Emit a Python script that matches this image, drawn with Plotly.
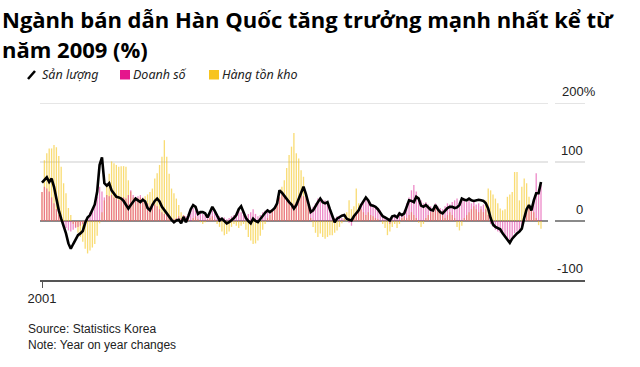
import plotly.graph_objects as go

# monthly index from Jan 2001
production = [65, 70, 74, 66, 72, 58, 35, 18, 4, -8, -21, -38, -47, -39, -30, -24, -21, -17, -3, 6,
              10, 19, 28, 50, 95, 108, 64, 60, 64, 52, 46, 41, 40, 38, 34, 28, 21, 27, 33, 38,
              35, 32, 36, 33, 22, 18, 27, 34, 38, 33, 24, 18, 13, 8, 2, -2, 1, 2, -4, 7,
              -2, 8, 20, 27, 24, 12, 15, 15, 13, 6, 15, 24, 17, 10, 1, 4, -1, -4, -2, 1,
              5, 10, 20, 25, 15, 5, 0, -4, 4, 0, -2, 4, 8, 14, 18, 15, 18, 22, 30, 52,
              48, 42, 36, 32, 28, 21, 27, 38, 50, 58, 46, 30, 15, 18, 26, 32, 38, 32, 30, 32,
              20, 8, -2, 4, 7, 9, 10, 4, 2, 1, 8, 14, 18, 27, 34, 40, 35, 27, 26, 24,
              20, 15, 8, 6, 4, 1, 8, 9, 6, 13, 10, 13, 24, 35, 34, 32, 41, 38, 26, 24,
              27, 23, 19, 18, 27, 20, 15, 13, 18, 22, 24, 24, 22, 23, 27, 38, 36, 35, 38, 35,
              34, 35, 36, 35, 34, 30, 21, 5, -6, -10, -12, -14, -21, -26, -30, -37, -30, -25, -21, -18,
              -13, 5, 20, 27, 18, 35, 47, 47, 66]

sales = [49, 58, 55, 50, 40, 30, 20, 10, 0, -8, -12, -16, -18, -15, -12, -10, -8, -5, 2, 8,
         15, 20, 30, 41, 58, 50, 40, 44, 42, 44, 40, 38, 36, 35, 40, 38, 44, 52, 44, 40,
         42, 44, 40, 35, 30, 25, 30, 28, 25, 20, 15, 12, 10, 8, 5, 3, 5, 8, 5, 10,
         8, 12, 20, 22, 18, 14, 16, 12, 10, 8, 12, 18, 15, 12, 8, 5, 6, 3, 5, 8,
         10, 14, 20, 15, 10, 8, 12, 15, 20, 12, 8, 10, 15, 18, 20, 15, 20, 25, 30, 40,
         45, 42, 38, 35, 30, 28, 32, 40, 45, 42, 38, 28, 20, 24, 30, 38, 40, 36, 35, 30,
         22, 12, 5, 8, 8, 5, 3, 0, -3, -8, 5, 12, 20, 28, 35, 40, 36, 30, 28, 25,
         22, 18, 10, 5, 2, -5, 5, 8, 10, 15, 12, 18, 30, 40, 52, 61, 50, 40, 35, 30,
         32, 28, 25, 22, 30, 25, 22, 20, 25, 30, 28, 32, 35, 38, 30, 35, 38, 32, 35, 30,
         32, 28, 30, 25, 28, 20, 10, -5, -10, -15, -18, -20, -24, -27, -30, -33, -28, -21, -18, -16,
         -10, 5, 15, 27, 25, 32, 81, 52, 61]

inventory = [49, 103, 115, 123, 123, 129, 125, 110, 92, 64, 47, 22, 10, -5, -10, -20, -27, -35, -47, -55,
             -50, -45, -39, -25, -4, 15, 35, 60, 80, 101, 98, 95, 92, 93, 93, 92, 69, 50, 40, 35,
             38, 40, 38, 42, 45, 49, 55, 72, 81, 95, 109, 137, 109, 80, 55, 47, 38, 27, 15, 10,
             5, 2, 0, 5, 8, 3, -2, -5, -2, 3, 5, 8, 3, -5, -10, -18, -24, -22, -18, -10,
             -5, -8, -12, -8, -5, -15, -27, -33, -39, -38, -33, -25, -15, -5, 5, 10, 20, 25, 35, 41,
             58, 69, 90, 112, 126, 149, 115, 106, 86, 75, 47, 27, 5, -10, -20, -27, -21, -27, -30, -27,
             -24, -24, -20, -16, -10, -4, 5, 15, 35, 20, 25, 55, 30, 20, 15, 10, 15, 10, 8, 5,
             3, 0, -5, -12, -24, -18, -10, -5, -12, -5, 5, 8, 5, 10, 15, 10, 5, -3, -10, -5,
             5, 10, 15, 20, 25, 20, 15, 10, 5, 10, 15, 10, 5, -10, -16, -8, 5, 10, 15, 20,
             25, 20, 15, 20, 15, 35, 55, 52, 45, 38, 30, 21, 18, 20, 41, 45, 49, 83, 83, 35,
             58, 72, 64, 41, 25, 15, 5, -7, -13]

months = list(range(len(production)))
x_tick_vals = [0]
x_tick_text = ["2001"]
y_tick_vals = [200, 100, 0, -100]
y_tick_text = ["200%", "100", "0", "-100"]

series_names = ["Sản lượng", "Doanh số", "Hàng tồn kho"]
title_lines = ["Ngành bán dẫn Hàn Quốc tăng trưởng mạnh nhất kể từ", "năm 2009 (%)"]
FONT = "Liberation Sans"
PINK = "rgba(220,30,150,0.52)"
YELLOW = "rgba(245,197,24,0.6)"

fig = go.Figure()
fig.add_trace(go.Bar(x=months, y=inventory, name=series_names[2], width=0.55,
                     marker=dict(color=YELLOW, line=dict(width=0))))
fig.add_trace(go.Bar(x=months, y=sales, name=series_names[1], width=0.55,
                     marker=dict(color=PINK, line=dict(width=0))))
fig.add_trace(go.Scatter(x=months, y=production, name=series_names[0], mode="lines",
                         line=dict(color="black", width=2.6)))

# layout geometry (px)
L, R, T, B = 40, 55, 103, 87
W = 640 - L - R
H = 367 - T - B
px_per = (541 - 42) / (len(production) - 1)
x_lo = 0 - (42 - L) / px_per
x_hi = x_lo + W / px_per


def px_x(p):
    return (p - L) / W


def px_y(p):
    return (367 - B - p) / H


shapes = []
grid_end = px_x(548)
seg_start = px_x(555)
for v in y_tick_vals[:-1]:
    col = "#8a8a8a" if v == 0 else "#dedede"
    wid = 2 if v == 0 else 1.6
    shapes.append(dict(type="line", xref="paper", yref="y", x0=0, x1=grid_end, y0=v, y1=v,
                       line=dict(color=col, width=wid), layer="below"))
    shapes.append(dict(type="line", xref="paper", yref="y", x0=seg_start, x1=1, y0=v, y1=v,
                       line=dict(color=col, width=wid), layer="below"))

annotations = []
for v, t in zip(y_tick_vals, y_tick_text):
    if t.endswith("%"):
        annotations.append(dict(xref="paper", yref="y", x=px_x(560), y=v, text=t, showarrow=False,
                                xanchor="left", yanchor="bottom", yshift=2,
                                font=dict(family=FONT, size=13, color="#222")))
    else:
        annotations.append(dict(xref="paper", yref="y", x=1, y=v, text=t, showarrow=False,
                                xanchor="right", yanchor="bottom", yshift=2,
                                font=dict(family=FONT, size=13, color="#222")))
annotations.append(dict(xref="paper", yref="paper", x=px_x(26), y=px_y(320),
                        text="Source: Statistics Korea<br>Note: Year on year changes",
                        showarrow=False, xanchor="left", yanchor="top", align="left",
                        font=dict(family=FONT, size=12, color="#222")))
# title
for i, (line, yc) in enumerate(zip(title_lines, [19, 49])):
    annotations.append(dict(xref="paper", yref="paper", x=px_x(0), y=px_y(yc), text=line,
                            showarrow=False, xanchor="left", yanchor="middle",
                            font=dict(family="Open Sans", size=22, color="black", weight="bold")))

# legend (drawn manually)
leg_y = 75
leg_font = dict(family="Noto Sans", size=12.5, color="#222", style="italic")
shapes.append(dict(type="line", xref="paper", yref="paper", x0=px_x(28), x1=px_x(35),
                   y0=px_y(79), y1=px_y(71), line=dict(color="black", width=2.5)))
annotations.append(dict(xref="paper", yref="paper", x=px_x(40), y=px_y(leg_y), text=series_names[0],
                        showarrow=False, xanchor="left", yanchor="middle", font=leg_font))
shapes.append(dict(type="rect", xref="paper", yref="paper", x0=px_x(120), x1=px_x(130),
                   y0=px_y(79.5), y1=px_y(70), line=dict(width=0), fillcolor="#e5168c"))
annotations.append(dict(xref="paper", yref="paper", x=px_x(131), y=px_y(leg_y), text=series_names[1],
                        showarrow=False, xanchor="left", yanchor="middle", font=leg_font))
shapes.append(dict(type="rect", xref="paper", yref="paper", x0=px_x(209), x1=px_x(219),
                   y0=px_y(79.5), y1=px_y(70), line=dict(width=0), fillcolor="#f7c41f"))
annotations.append(dict(xref="paper", yref="paper", x=px_x(220), y=px_y(leg_y), text=series_names[2],
                        showarrow=False, xanchor="left", yanchor="middle", font=leg_font))

fig.update_layout(
    width=640, height=367,
    margin=dict(l=L, r=R, t=T, b=B),
    paper_bgcolor="white", plot_bgcolor="white",
    barmode="overlay",
    showlegend=False,
    xaxis=dict(range=[x_lo, x_hi], showgrid=False, zeroline=False,
               showline=True, linecolor="#555", linewidth=1.5,
               ticks="outside", ticklen=6, tickcolor="#555", tickwidth=1,
               tickvals=x_tick_vals, ticktext=x_tick_text,
               tickfont=dict(family=FONT, size=13, color="#222")),
    yaxis=dict(range=[-100, 200], showgrid=False, zeroline=False, showticklabels=False,
               fixedrange=True),
    shapes=shapes,
    annotations=annotations,
)

fig.write_html("out.html")
